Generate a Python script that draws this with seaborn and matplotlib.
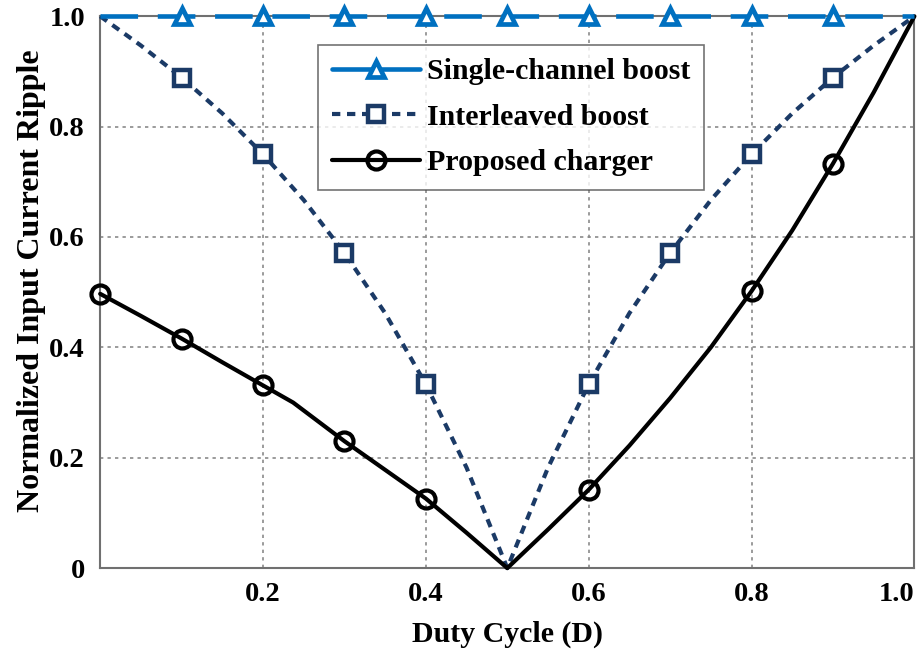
import matplotlib
matplotlib.use("Agg")
import matplotlib.pyplot as plt
import seaborn as sns
import pandas as pd

# Duty cycle samples for each curve
duty_single = [0.0, 0.1, 0.2, 0.3, 0.4, 0.5, 0.6, 0.7, 0.8, 0.9, 1.0]
ripple_single = [1.0, 1.0, 1.0, 1.0, 1.0, 1.0, 1.0, 1.0, 1.0, 1.0, 1.0]
marks_single = [0.1, 0.2, 0.3, 0.4, 0.5, 0.6, 0.7, 0.8, 0.9]

duty_inter = [0.0, 0.05, 0.1, 0.15, 0.2, 0.25, 0.3, 0.35, 0.4, 0.45, 0.5,
              0.55, 0.6, 0.65, 0.7, 0.75, 0.8, 0.85, 0.9, 0.95, 1.0]
ripple_inter = [1.0, 0.947, 0.889, 0.824, 0.75, 0.667, 0.571, 0.462, 0.333, 0.182, 0.0,
                0.182, 0.333, 0.462, 0.571, 0.667, 0.75, 0.824, 0.889, 0.947, 1.0]
marks_inter = [0.1, 0.2, 0.3, 0.4, 0.6, 0.7, 0.8, 0.9]

duty_prop = [0.0, 0.05, 0.1, 0.15, 0.2, 0.237, 0.3, 0.35, 0.4, 0.45, 0.5,
             0.55, 0.6, 0.65, 0.7, 0.75, 0.8, 0.85, 0.9, 0.95, 1.0]
ripple_prop = [0.497, 0.457, 0.416, 0.373, 0.331, 0.300, 0.230, 0.178, 0.126, 0.064, 0.0,
               0.070, 0.142, 0.222, 0.308, 0.400, 0.502, 0.612, 0.733, 0.862, 1.0]
marks_prop = [0.0, 0.1, 0.2, 0.3, 0.4, 0.6, 0.8, 0.9]

x_ticks = [0.2, 0.4, 0.6, 0.8, 1.0]
x_tick_labels = ["0.2", "0.4", "0.6", "0.8", "1.0"]
y_ticks = [0.0, 0.2, 0.4, 0.6, 0.8, 1.0]
y_tick_labels = ["0", "0.2", "0.4", "0.6", "0.8", "1.0"]

labels = ["Single-channel boost", "Interleaved boost", "Proposed charger"]

BLUE = "#0070C0"
NAVY = "#1B3A66"
INTER_DASH = (0, (2.0, 1.6))

sns.set_style("white")
plt.rcParams["font.family"] = ["Liberation Serif", "DejaVu Serif"]
plt.rcParams["font.weight"] = "bold"
plt.rcParams["text.color"] = "black"
plt.rcParams["axes.labelcolor"] = "black"
plt.rcParams["xtick.color"] = "black"
plt.rcParams["ytick.color"] = "black"

fig = plt.figure(figsize=(9.19, 6.5), dpi=100)
ax = fig.add_axes([0.109, 0.126, 0.886, 0.849])


def mark_idx(xs, marks):
    return [i for i, v in enumerate(xs) if any(abs(v - m) < 1e-9 for m in marks)]


df_s = pd.DataFrame({"D": duty_single, "r": ripple_single})
df_i = pd.DataFrame({"D": duty_inter, "r": ripple_inter})
df_p = pd.DataFrame({"D": duty_prop, "r": ripple_prop})

sns.lineplot(data=df_s, x="D", y="r", ax=ax, color=BLUE, lw=3.3,
             marker="^", markersize=12, markeredgewidth=3.4,
             markerfacecolor="white", markeredgecolor=BLUE,
             markevery=mark_idx(duty_single, marks_single),
             linestyle=(0, (8.2, 4.3)), clip_on=False,
             label=labels[0], zorder=5)
sns.lineplot(data=df_i, x="D", y="r", ax=ax, color=NAVY, lw=3.0,
             marker="s", markersize=12, markeredgewidth=3.2,
             markerfacecolor="white", markeredgecolor=NAVY,
             markevery=mark_idx(duty_inter, marks_inter),
             linestyle=INTER_DASH, clip_on=False,
             label=labels[1], zorder=4)
sns.lineplot(data=df_p, x="D", y="r", ax=ax, color="black", lw=3.0,
             marker="o", markersize=13, markeredgewidth=3.0,
             markerfacecolor="none", markeredgecolor="black",
             markevery=mark_idx(duty_prop, marks_prop), clip_on=False,
             label=labels[2], zorder=4)

ax.set_xlim(0, 1)
ax.set_ylim(0, 1)
ax.set_xticks(x_ticks)
ax.set_xticklabels(x_tick_labels)
ax.set_yticks(y_ticks)
ax.set_yticklabels(y_tick_labels)
ax.tick_params(axis="both", length=0, labelsize=20.5, labelcolor="black")
ax.tick_params(axis="x", pad=10)
ax.tick_params(axis="y", pad=11)
for lab in ax.get_xticklabels() + ax.get_yticklabels():
    lab.set_fontweight("bold")
ax.get_xticklabels()[-1].set_horizontalalignment("right")

ax.grid(True, color="#8a8a8a", linestyle=(0, (2, 2.5)), lw=1.2)
for s in ax.spines.values():
    s.set_visible(True)
    s.set_color("#707070")
    s.set_linewidth(1.5)

ax.set_xlabel("Duty Cycle (D)", fontsize=21.5, fontweight="bold", labelpad=10,
              color="black")
ax.set_ylabel("Normalized Input Current Ripple", fontsize=23, fontweight="bold",
              color="black")
ax.yaxis.set_label_coords(-0.066, 0.52)

leg = ax.legend(loc="upper left", bbox_to_anchor=(0.268, 0.948), fontsize=21.5,
                frameon=True, fancybox=False, edgecolor="#505050",
                handlelength=2.95, borderpad=0.45, labelspacing=0.62,
                handletextpad=0.25, borderaxespad=0)
leg.get_frame().set_linewidth(1.2)
for t in leg.get_texts():
    t.set_fontweight("bold")
    t.set_color("black")
leg.legend_handles[0].set_linestyle("-")
leg.legend_handles[1].set_linestyle(INTER_DASH)
for h in leg.legend_handles:
    h.set_markevery([1])

fig.savefig("out.png", dpi=100)
